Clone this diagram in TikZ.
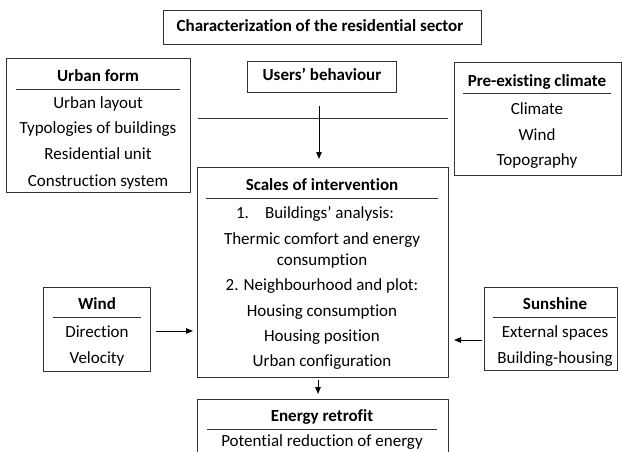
\documentclass[tikz,border=0pt]{standalone}
\usepackage{fontspec}
\setmainfont[Ligatures={NoCommon}]{Carlito}
\usetikzlibrary{arrows.meta}
\begin{document}
\begin{tikzpicture}[x=1pt,y=-1pt,
  box/.style={draw=black!80, line width=1pt, inner sep=0pt, outer sep=0pt},
  txt/.style={inner sep=0pt, font=\fontsize{17}{20}\selectfont, text height=11pt, text depth=3pt, anchor=center},
  hdr/.style={txt, font=\fontsize{17}{20}\selectfont\bfseries},
  rulel/.style={line width=1pt, draw=black!80},
  arr/.style={line width=1pt, draw=black, -{Triangle[length=7pt,width=5.5pt]}}]
\useasboundingbox (0,0) rectangle (622,452);
\clip (0,0) rectangle (622,452);
% title
\node[box, minimum width=318pt, minimum height=34pt] (title) at (322,28) {};
\node[hdr] (titletxt) at (320,28) {Characterization of the residential sector};
% urban form
\node[box, minimum width=184pt, minimum height=133pt] (urban) at (98,125.5) {};
\node[hdr] (urbanh) at (98,78) {Urban form};
\coordinate (uh1) at (16,90); \coordinate (uh2) at (180,90);
\draw[rulel] (uh1) -- (uh2);
\node[txt] (u1) at (98,105) {Urban layout};
\node[txt] (u2) at (98,130) {Typologies of buildings};
\node[txt] (u3) at (98,156) {Residential unit};
\node[txt] (u4) at (98,182) {Construction system};
% users
\node[box, minimum width=149pt, minimum height=31pt] (users) at (322,77.5) {};
\node[hdr] (userstxt) at (322,77) {Users’ behaviour};
% pre-existing climate
\node[box, minimum width=167pt, minimum height=112pt] (pre) at (537.5,119) {};
\node[hdr] (preh) at (537,83) {Pre-existing climate};
\coordinate (ph1) at (463,94); \coordinate (ph2) at (611,94);
\draw[rulel] (ph1) -- (ph2);
\node[txt] (p1) at (537,110) {Climate};
\node[txt] (p2) at (537,136) {Wind};
\node[txt] (p3) at (537,161) {Topography};
% horizontal line and arrow
\coordinate (hl1) at (198,119); \coordinate (hl2) at (448,119);
\draw[rulel] (hl1) -- (hl2);
\coordinate (a1) at (319,106);
\coordinate (a2) at (319,159);
\draw[arr] (a1) -- (a2);
% scales
\node[box, minimum width=251pt, minimum height=210pt] (scales) at (322.5,272) {};
\node[hdr] (scalesh) at (322,186) {Scales of intervention};
\coordinate (sh1) at (206,198); \coordinate (sh2) at (438,198);
\draw[rulel] (sh1) -- (sh2);
\node[txt] (s1) at (315,214) {1.\hspace{16pt}Buildings’ analysis:};
\node[txt] (s2) at (322,240) {Thermic comfort and energy};
\node[txt] (s3) at (322,261) {consumption};
\node[txt] (s4) at (322,286) {2. Neighbourhood and plot:};
\node[txt] (s5) at (322,312) {Housing consumption};
\node[txt] (s6) at (322,337) {Housing position};
\node[txt] (s7) at (322,362) {Urban configuration};
% wind
\node[box, minimum width=107pt, minimum height=84pt] (wind) at (96.5,329) {};
\node[hdr] (windh) at (97,305) {Wind};
\coordinate (wh1) at (53,317); \coordinate (wh2) at (141,317);
\draw[rulel] (wh1) -- (wh2);
\node[txt] (w1) at (97,333) {Direction};
\node[txt] (w2) at (97,359) {Velocity};
\coordinate (wa1) at (156,331);
\coordinate (wa2) at (193,331);
\draw[arr] (wa1) -- (wa2);
% sunshine
\node[box, minimum width=133pt, minimum height=83pt] (sun) at (550.5,328.5) {};
\node[hdr] (sunh) at (555,305) {Sunshine};
\coordinate (sh3) at (493,317); \coordinate (sh4) at (616,317);
\draw[rulel] (sh3) -- (sh4);
\node[txt] (sn1) at (555,333) {External spaces};
\node[txt] (sn2) at (555,359) {Building-housing};
\coordinate (sa1) at (482,340);
\coordinate (sa2) at (454,340);
\draw[arr] (sa1) -- (sa2);
% energy retrofit
\node[box, minimum width=251pt, minimum height=90pt] (energy) at (322.5,444) {};
\coordinate (ea1) at (318,380);
\coordinate (ea2) at (318,394);
\draw[arr] (ea1) -- (ea2);
\node[hdr] (energyh) at (322,417) {Energy retrofit};
\coordinate (eh1) at (207,429); \coordinate (eh2) at (437,429);
\draw[rulel] (eh1) -- (eh2);
\node[txt] (e1) at (322,442.5) {Potential reduction of energy};
\end{tikzpicture}
\end{document}
